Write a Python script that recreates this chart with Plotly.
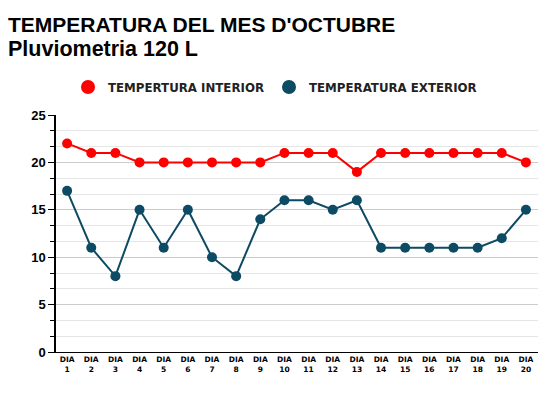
import plotly.graph_objects as go

days = [f"DIA<br>{i}" for i in range(1, 21)]
interior = [22, 21, 21, 20, 20, 20, 20, 20, 20, 21, 21, 21, 19, 21, 21, 21, 21, 21, 21, 20]
exterior = [17, 11, 8, 15, 11, 15, 10, 8, 14, 16, 16, 15, 16, 11, 11, 11, 11, 11, 12, 15]
y_ticks = [0, 5, 10, 15, 20, 25]
names = ["TEMPERTURA INTERIOR", "TEMPERATURA EXTERIOR"]
colors = ["#ff0000", "#0d4a63"]

W, H = 558, 396
ML, MR, MT, MB = 56, 20, 115, 44
PW, PH = W - ML - MR, H - MT - MB

def px(x):
    return (x - ML) / PW

def py(y):
    return (H - MB - y) / PH

fig = go.Figure()
for series, name, col in zip([interior, exterior], names, colors):
    fig.add_trace(go.Scatter(x=days, y=series, mode="lines+markers", name=name, showlegend=False,
                             line=dict(color=col, width=2), marker=dict(color=col, size=10)))
# legend entries (marker only, as in the reference)
for name, col in zip(names, colors):
    fig.add_trace(go.Scatter(x=[None], y=[None], mode="markers", name=name,
                             marker=dict(color=col, size=14)))

font = "Liberation Sans, Arial, sans-serif"
wide = "DejaVu Sans, sans-serif"
fig.update_layout(
    width=W, height=H,
    margin=dict(l=ML, r=MR, t=MT, b=MB, autoexpand=False),
    paper_bgcolor="white", plot_bgcolor="white",
    font=dict(family=font, color="#000"),
    showlegend=True,
    legend=dict(orientation="h", x=px(275), xanchor="center", y=py(87), yanchor="middle",
                font=dict(size=11.8, color="#222", family=wide, weight="bold"),
                itemwidth=30, tracegroupgap=0),
    annotations=[
        dict(text="<b>TEMPERATURA DEL MES D'OCTUBRE</b>", xref="paper", yref="paper",
             x=px(6), y=py(24), xanchor="left", yanchor="middle", showarrow=False,
             font=dict(size=21, color="#000", family=font)),
        dict(text="<b>Pluviometria 120 L</b>", xref="paper", yref="paper",
             x=px(6), y=py(49), xanchor="left", yanchor="middle", showarrow=False,
             font=dict(size=21.5, color="#000", family=font)),
    ],
)
fig.update_xaxes(type="category", range=[-0.46, 19.5], showgrid=False, automargin=False,
                 showline=True, linecolor="#000", linewidth=1,
                 tickfont=dict(size=7.5, family=wide, weight="bold", color="#000"),
                 ticks="", tickangle=0)
fig.update_yaxes(range=[0, 25], tickvals=y_ticks, showline=True, linecolor="#000", linewidth=1.5,
                 automargin=False,
                 ticks="outside", ticklen=6, tickcolor="#000",
                 tickfont=dict(size=13, family=font, weight="bold", color="#000"),
                 gridcolor="#cccccc", gridwidth=1, zeroline=False,
                 minor=dict(dtick=5/3, tick0=0, showgrid=True, gridcolor="#e6e6e6",
                            ticks="outside", ticklen=4, tickcolor="#000"))

fig.write_html("out.html", config={"displayModeBar": False},
               post_script="document.body.style.margin='0';")
